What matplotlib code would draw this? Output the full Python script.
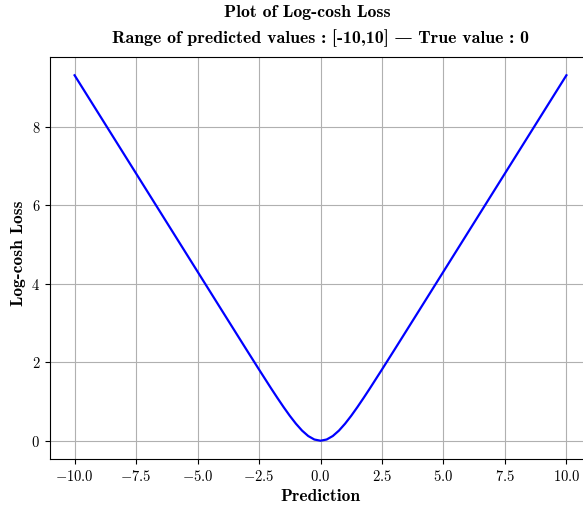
import matplotlib
matplotlib.use("Agg")
import matplotlib.pyplot as plt

# Values (log-cosh loss vs prediction)
prediction = [-10, -9, -8, -7, -6, -5, -4, -3.5, -3, -2.5, -2, -1.75, -1.5, -1.25, -1, -0.75, -0.5, -0.25, 0,
              0.25, 0.5, 0.75, 1, 1.25, 1.5, 1.75, 2, 2.5, 3, 3.5, 4, 5, 6, 7, 8, 9, 10]
loss = [9.307, 8.307, 7.307, 6.307, 5.307, 4.307, 3.307, 2.808, 2.309, 1.814, 1.325, 1.087, 0.856, 0.636, 0.434,
        0.258, 0.120, 0.031, 0.0,
        0.031, 0.120, 0.258, 0.434, 0.636, 0.856, 1.087, 1.325, 1.814, 2.309, 2.808, 3.307, 4.307, 5.307,
        6.307, 7.307, 8.307, 9.307]

title = "Plot of Log-cosh Loss"
subtitle = "Range of predicted values : [-10,10] \u2014 True value : 0"
xlabel = "Prediction"
ylabel = "Log-cosh Loss"

plt.rcParams['font.family'] = ['cmr10', 'DejaVu Serif']
plt.rcParams['mathtext.fontset'] = 'cm'
plt.rcParams['axes.formatter.use_mathtext'] = True

W, H = 583, 508
fig = plt.figure(figsize=(W / 100, H / 100), dpi=100)
ax = fig.add_axes([50 / W, 1 - 459 / H, 541 / W, (459 - 57) / H])
ax.plot(prediction, loss, color='blue', linewidth=1.6)
ax.grid(True, color='#b0b0b0', linewidth=0.8)
ax.set_axisbelow(True)
ax.tick_params(labelsize=10.5)

bold = ['cmb10', 'DejaVu Serif']

def px(x, y):
    return x / W, 1 - y / H

fig.text(*px(307, 17.5), title, ha='center', va='baseline', family=bold, fontsize=12.8)
fig.text(*px(320, 43.5), subtitle, ha='center', va='baseline', family=bold, fontsize=12.8)
fig.text(*px(320, 501), xlabel, ha='center', va='baseline', family=bold, fontsize=12.5)
fig.text(*px(19, 253), ylabel, ha='center', va='center', rotation=90, family=bold, fontsize=12.5)

fig.savefig("out.png", dpi=100)
